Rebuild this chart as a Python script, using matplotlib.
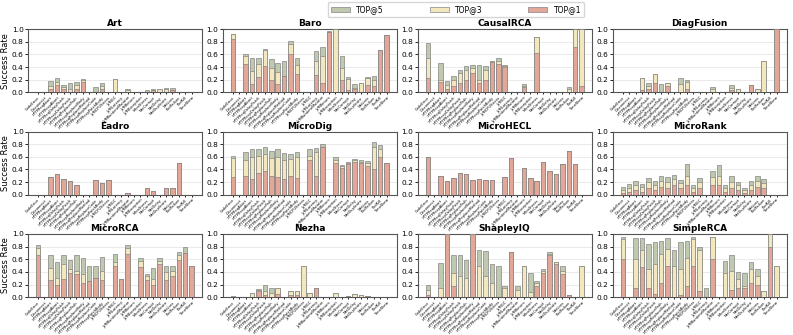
import matplotlib.pyplot as plt
import numpy as np

fault_types = ["CodeError", "Disconnect", "HTTPReqAbort", "HTTPRespAbort",
               "HTTPReqDelayPatch", "HTTPRespDelayPatch",
               "HTTPReqReplacePath", "HTTPRespReplaceBody",
               "HTTPReqReplaceMethod", "HTTPRespReplaceCode",
               "HTTPRespPatchBody", "JVMCPUStress", "JVMGC", "JVMLatency",
               "JVMRuntimeMutator", "JVMReturn", "JVMException", "MemStress",
               "NetCorrupt", "NetDelay", "NetDuplicate", "NetLoss", "PodFailure",
               "PodKill", "TimeSkew"]

methods = ["Art", "Baro", "CausalRCA", "DiagFusion", "Eadro", "MicroDig",
           "MicroHECL", "MicroRank", "MicroRCA", "Nezha", "ShapleyIQ", "SimpleRCA"]

art_top5 = [0, 0, 0.18, 0.22, 0.11, 0.15, 0.17, 0.21, 0, 0.09, 0.15, 0, 0.21, 0, 0.05, 0, 0, 0.03, 0.05, 0.05, 0.07, 0.07, 0, 0, 0]
art_top3 = [0, 0, 0.10, 0.17, 0.08, 0.05, 0.12, 0.19, 0, 0, 0.10, 0, 0.21, 0, 0.03, 0, 0, 0, 0.03, 0.05, 0.05, 0.04, 0, 0, 0]
art_top1 = [0, 0, 0.05, 0.12, 0.05, 0, 0.05, 0.16, 0, 0, 0.06, 0, 0, 0, 0, 0, 0, 0, 0.03, 0, 0, 0.03, 0, 0, 0]

baro_top5 = [0.92, 0, 0.60, 0.54, 0.55, 0.69, 0.53, 0.46, 0.50, 0.82, 0.55, 0, 0, 0.65, 0.72, 0.97, 1.0, 0.57, 0.24, 0.13, 0.15, 0.25, 0.26, 0.67, 0.90]
baro_top3 = [0.92, 0, 0.58, 0.34, 0.45, 0.67, 0.39, 0.32, 0.26, 0.77, 0.43, 0, 0, 0.50, 0.58, 0.96, 1.0, 0.39, 0.21, 0.07, 0.15, 0.23, 0.20, 0.67, 0.90]
baro_top1 = [0.85, 0, 0.45, 0.13, 0.25, 0.42, 0.20, 0.13, 0.26, 0.60, 0.29, 0, 0, 0.28, 0.15, 0.95, 0, 0.20, 0.03, 0.05, 0, 0.11, 0.10, 0.67, 0.90]

causalrca_top5 = [0.78, 0, 0.47, 0.18, 0.26, 0.36, 0.42, 0.43, 0.44, 0.41, 0.50, 0.55, 0.44, 0, 0, 0.13, 0, 0.88, 0, 0, 0, 0, 0.08, 1.0, 1.0]
causalrca_top3 = [0.55, 0, 0.20, 0.12, 0.20, 0.30, 0.35, 0.38, 0.20, 0.35, 0.50, 0.50, 0.42, 0, 0, 0.10, 0, 0.88, 0, 0, 0, 0, 0.05, 1.0, 1.0]
causalrca_top1 = [0.23, 0, 0.17, 0.05, 0.10, 0.15, 0.20, 0.30, 0.15, 0.20, 0.48, 0.45, 0.40, 0, 0, 0.08, 0, 0.62, 0, 0, 0, 0, 0, 0.72, 0.10]

diagfusion_top5 = [0, 0, 0, 0.23, 0.15, 0.29, 0.13, 0.15, 0, 0.23, 0.20, 0, 0, 0, 0.08, 0, 0, 0.11, 0.05, 0, 0.11, 0.06, 0.50, 0, 1.0]
diagfusion_top3 = [0, 0, 0, 0.23, 0.10, 0.29, 0, 0.15, 0, 0.14, 0.17, 0, 0, 0, 0.05, 0, 0, 0.07, 0.05, 0, 0.11, 0.06, 0.50, 0, 1.0]
diagfusion_top1 = [0, 0, 0, 0.03, 0.06, 0.15, 0, 0.10, 0, 0, 0.06, 0, 0, 0, 0, 0, 0, 0.04, 0, 0, 0.11, 0, 0, 0, 1.0]

eadro_top5 = [0, 0, 0.28, 0.33, 0.25, 0.21, 0.15, 0, 0, 0.24, 0.18, 0.24, 0, 0, 0.03, 0, 0, 0.11, 0.06, 0, 0.10, 0.10, 0.50, 0, 0]
eadro_top3 = [0, 0, 0.28, 0.33, 0.25, 0.21, 0.15, 0, 0, 0.24, 0.18, 0.24, 0, 0, 0.03, 0, 0, 0.11, 0.06, 0, 0.10, 0.10, 0.50, 0, 0]
eadro_top1 = [0, 0, 0.28, 0.33, 0.25, 0.21, 0.15, 0, 0, 0.24, 0.18, 0.24, 0, 0, 0.03, 0, 0, 0.11, 0.06, 0, 0.10, 0.10, 0.50, 0, 0]

microdig_top5 = [0.62, 0, 0.68, 0.72, 0.72, 0.76, 0.70, 0.73, 0.66, 0.64, 0.67, 0, 0.72, 0.74, 0.80, 0, 0.60, 0.47, 0.52, 0.57, 0.55, 0.53, 0.83, 0.78, 0.50]
microdig_top3 = [0.58, 0, 0.55, 0.60, 0.62, 0.65, 0.58, 0.60, 0.55, 0.56, 0.60, 0, 0.62, 0.68, 0.75, 0, 0.55, 0.45, 0.50, 0.55, 0.52, 0.50, 0.75, 0.72, 0.50]
microdig_top1 = [0.28, 0, 0.30, 0.25, 0.35, 0.38, 0.30, 0.28, 0.25, 0.30, 0.27, 0, 0.55, 0.30, 0.75, 0, 0.50, 0.42, 0.48, 0.52, 0.50, 0.45, 0.40, 0.60, 0.50]

microhecl_top5 = [0.60, 0, 0.29, 0.22, 0.27, 0.34, 0.33, 0.23, 0.25, 0.23, 0.23, 0, 0.28, 0.58, 0, 0.43, 0.26, 0.21, 0.52, 0.38, 0.33, 0.49, 0.69, 0.49, 0]
microhecl_top3 = microhecl_top5
microhecl_top1 = microhecl_top5

microrank_top5 = [0.12, 0.17, 0.22, 0.17, 0.27, 0.21, 0.30, 0.28, 0.31, 0.23, 0.49, 0.16, 0.27, 0, 0.37, 0.47, 0.15, 0.29, 0.20, 0.10, 0.22, 0.30, 0.25, 0, 0]
microrank_top3 = [0.08, 0.10, 0.15, 0.12, 0.20, 0.15, 0.22, 0.20, 0.25, 0.18, 0.30, 0.10, 0.20, 0, 0.28, 0.30, 0.10, 0.20, 0.15, 0.07, 0.15, 0.22, 0.18, 0, 0]
microrank_top1 = [0.03, 0.05, 0.08, 0.05, 0.10, 0.08, 0.12, 0.10, 0.15, 0.10, 0.15, 0.05, 0.10, 0, 0.15, 0.15, 0.05, 0.10, 0.08, 0.03, 0.08, 0.12, 0.10, 0, 0]

microrca_top5 = [0.82, 0, 0.66, 0.55, 0.67, 0.59, 0.67, 0.62, 0.50, 0.49, 0.63, 0, 0.68, 0.28, 0.83, 0, 0.62, 0.37, 0.46, 0.62, 0.50, 0.49, 0.71, 0.80, 0.50]
microrca_top3 = [0.78, 0, 0.46, 0.30, 0.52, 0.44, 0.42, 0.37, 0.25, 0.31, 0.42, 0, 0.55, 0.28, 0.78, 0, 0.57, 0.33, 0.28, 0.57, 0.40, 0.42, 0.67, 0.70, 0.50]
microrca_top1 = [0.66, 0, 0.27, 0.20, 0.28, 0.38, 0.36, 0.22, 0.25, 0.30, 0.27, 0, 0.49, 0.28, 0.68, 0, 0.48, 0.27, 0.20, 0.52, 0.27, 0.34, 0.58, 0.70, 0.50]

nezha_top5 = [0.02, 0, 0, 0.06, 0.13, 0.19, 0.14, 0.15, 0, 0.09, 0.10, 0.50, 0.07, 0.14, 0.01, 0, 0.07, 0, 0.02, 0.05, 0.04, 0.02, 0, 0, 0]
nezha_top3 = [0.02, 0, 0, 0.06, 0.12, 0.09, 0.07, 0.15, 0, 0.09, 0.10, 0.50, 0.07, 0.14, 0.01, 0, 0.07, 0, 0.02, 0.05, 0.04, 0.02, 0, 0, 0]
nezha_top1 = [0, 0, 0, 0, 0.09, 0.04, 0, 0.05, 0, 0.04, 0.04, 0, 0, 0.14, 0.01, 0, 0, 0, 0.02, 0, 0, 0.02, 0, 0, 0]

shapleyiq_top5 = [0.19, 0, 0.54, 1.0, 0.67, 0.67, 0.59, 1.0, 0.75, 0.73, 0.52, 0.50, 0.18, 0.71, 0.17, 0.50, 0.38, 0.26, 0.45, 0.71, 0.56, 0.49, 0.03, 0, 0.50]
shapleyiq_top3 = [0.11, 0, 0.15, 1.0, 0.38, 0.33, 0.30, 1.0, 0.50, 0.33, 0.23, 0, 0.14, 0.71, 0.12, 0.50, 0.08, 0.22, 0.41, 0.68, 0.55, 0.42, 0.03, 0, 0.50]
shapleyiq_top1 = [0.04, 0, 0, 1.0, 0.17, 0, 0, 1.0, 0, 0, 0, 0, 0, 0.71, 0, 0, 0, 0.18, 0.38, 0.66, 0.52, 0.36, 0.03, 0, 0]

simplerca_top5 = [0.95, 0, 0.93, 0.93, 0.84, 0.87, 0.89, 0.93, 0.75, 0.88, 0.89, 0.95, 0.79, 0.14, 0.95, 0, 0.57, 0.67, 0.39, 0.38, 0.56, 0.44, 0.09, 1.0, 0.50]
simplerca_top3 = [0.92, 0, 0.60, 0.75, 0.44, 0.52, 0.68, 0.76, 0.50, 0.45, 0.62, 0.92, 0.74, 0, 0.95, 0, 0.38, 0.41, 0.28, 0.18, 0.44, 0.34, 0.09, 1.0, 0.50]
simplerca_top1 = [0.60, 0, 0.14, 0.47, 0.15, 0.05, 0.23, 0.49, 0, 0.03, 0.18, 0.50, 0.09, 0, 0.61, 0, 0, 0.12, 0.15, 0.14, 0.23, 0.20, 0, 0.80, 0]

top5 = [art_top5, baro_top5, causalrca_top5, diagfusion_top5, eadro_top5, microdig_top5,
        microhecl_top5, microrank_top5, microrca_top5, nezha_top5, shapleyiq_top5, simplerca_top5]
top3 = [art_top3, baro_top3, causalrca_top3, diagfusion_top3, eadro_top3, microdig_top3,
        microhecl_top3, microrank_top3, microrca_top3, nezha_top3, shapleyiq_top3, simplerca_top3]
top1 = [art_top1, baro_top1, causalrca_top1, diagfusion_top1, eadro_top1, microdig_top1,
        microhecl_top1, microrank_top1, microrca_top1, nezha_top1, shapleyiq_top1, simplerca_top1]

c5 = '#bfc9b0'
c3 = '#f3e7bd'
c1 = '#e2a797'
edge = '#858585'

fig, axes = plt.subplots(3, 4, figsize=(7.93, 3.35), dpi=100)
fig.subplots_adjust(left=0.035, right=0.992, top=0.913, bottom=0.113, wspace=0.12, hspace=0.62)

x = np.arange(len(fault_types))
for i, ax in enumerate(axes.flat):
    ax.bar(x, top5[i], width=0.7, color=c5, edgecolor=edge, linewidth=0.5, label='TOP@5', zorder=2)
    ax.bar(x, top3[i], width=0.7, color=c3, edgecolor=edge, linewidth=0.5, label='TOP@3', zorder=3)
    ax.bar(x, top1[i], width=0.7, color=c1, edgecolor=edge, linewidth=0.5, label='TOP@1', zorder=4)
    ax.set_title(methods[i], fontsize=6.5, fontweight='bold', pad=2)
    ax.set_ylim(0, 1.0)
    ax.set_yticks([0, 0.2, 0.4, 0.6, 0.8, 1.0])
    ax.set_xticks(x)
    ax.set_xticklabels(fault_types, rotation=45, ha='right', fontsize=2.6, rotation_mode='anchor')
    ax.tick_params(axis='y', labelsize=5.3, length=2, pad=1, width=0.6)
    ax.tick_params(axis='x', length=1.5, pad=1, width=0.6)
    ax.grid(axis='y', color='#e6e6e6', linewidth=0.6, zorder=0)
    ax.set_axisbelow(True)
    for s in ax.spines.values():
        s.set_color('#555555')
        s.set_linewidth(0.8)
    if i % 4 == 0:
        ax.set_ylabel('Success Rate', fontsize=6, labelpad=1)

handles, labels = axes[0, 0].get_legend_handles_labels()
fig.legend(handles, labels, loc='upper center', bbox_to_anchor=(0.575, 1.005), ncol=3,
           fontsize=5.5, columnspacing=6, handlelength=2.5, frameon=True, edgecolor='#cccccc')

fig.savefig('out.png', dpi=100)
